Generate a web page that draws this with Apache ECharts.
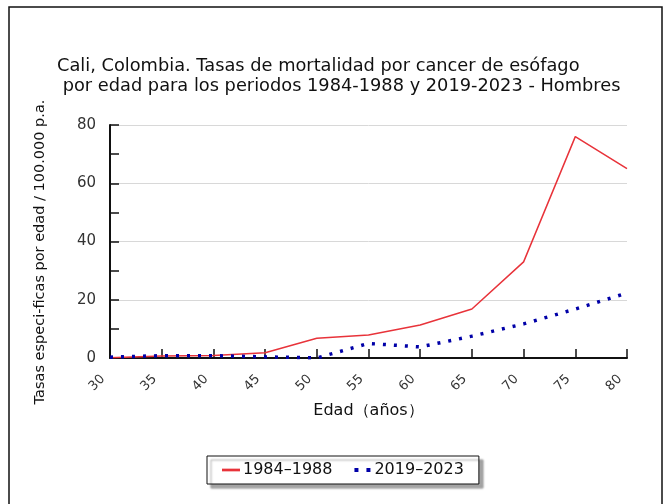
<!DOCTYPE html>
<html>
<head>
<meta charset="utf-8">
<script src="https://cdn.jsdelivr.net/npm/echarts@6/dist/echarts.min.js"></script>
<style>html,body{margin:0;padding:0;background:#fff}#c{width:669px;height:504px}</style>
</head>
<body>
<div id="c"></div>
<script>
var ages = [30, 35, 40, 45, 50, 55, 60, 65, 70, 75, 80];
var s1984 = [0.1, 0.7, 0.9, 1.8, 6.8, 7.9, 11.3, 16.8, 33, 76, 65];
var s2019 = [0.3, 0.8, 0.8, 0.4, 0, 5.0, 3.8, 7.5, 11.7, 16.8, 22.3];
var seriesNames = ['1984\u20131988', '2019\u20132023'];
var yTicks = [0, 20, 40, 60, 80];

function pairs(v){ return ages.map(function(a,i){ return [a, v[i]]; }); }

var chart = echarts.init(document.getElementById('c'));
var font = 'DejaVu Sans';
chart.setOption({
  animation: false,
  backgroundColor: '#fff',
  textStyle: { fontFamily: font },
  graphic: [
    { type: 'rect', shape: { x: 9, y: 7, width: 653, height: 520 }, style: { fill: 'none', stroke: '#111', lineWidth: 1.5 } },
    { type: 'text', left: 57, top: 56, style: { text: 'Cali, Colombia. Tasas de mortalidad por cancer de esófago\n por edad para los periodos 1984-1988 y 2019-2023 - Hombres', font: '17.8px DejaVu Sans', fill: '#111', lineHeight: 20 } },
    { type: 'text', x: 40, y: 252, rotation: Math.PI / 2, style: { text: 'Tasas especi-ficas por edad / 100.000 p.a.', font: '14.5px DejaVu Sans', fill: '#111', align: 'center', verticalAlign: 'middle' } }
  ],
  grid: { left: 110, right: 42, top: 125, bottom: 146 },
  legend: {
    bottom: 20, left: 207,
    backgroundColor: '#fff', borderColor: '#111', borderWidth: 1,
    padding: [6, 15, 6, 15],
    shadowColor: 'rgba(0,0,0,0.35)', shadowOffsetX: 4, shadowOffsetY: 4, shadowBlur: 2,
    itemWidth: 18, itemHeight: 4, itemGap: 22,
    textStyle: { fontSize: 16, color: '#111', fontFamily: font, padding: [0, 0, 0, -2] },
    data: [
      { name: seriesNames[0], icon: 'path://M0,0H20V3H0Z' },
      { name: seriesNames[1], icon: 'path://M0,0h3v3h-3zM9,0h3v3h-3z' }
    ]
  },
  xAxis: {
    type: 'value', min: 30, max: 80, interval: 5,
    name: 'Edad（años）', nameLocation: 'middle', nameGap: 45,
    nameTextStyle: { fontSize: 16, color: '#111', fontFamily: font },
    axisLine: { lineStyle: { color: '#111', width: 2 } },
    axisTick: { inside: true, length: 9, lineStyle: { color: '#111', width: 1.5 } },
    axisLabel: { rotate: 45, fontSize: 13, color: '#333', margin: 12, padding: [0, 10, 0, 0] },
    splitLine: { show: false }
  },
  yAxis: {
    type: 'value', min: 0, max: 80, interval: 20,
    axisLine: { show: true, lineStyle: { color: '#111', width: 2 } },
    axisTick: { inside: true, length: 9, lineStyle: { color: '#111', width: 1.5 } },
    minorTick: { show: true, splitNumber: 2, length: 9, lineStyle: { color: '#111', width: 1.5 } },
    axisLabel: { fontSize: 15, color: '#333', margin: 14,
      formatter: function(v){ return yTicks.indexOf(v) >= 0 ? String(v) : ''; } },
    splitLine: { show: true, lineStyle: { color: '#d8d8d8', width: 1 } }
  },
  series: [
    { name: seriesNames[0], type: 'line', data: pairs(s1984), symbol: 'none',
      itemStyle: { color: '#e8333a' },
      lineStyle: { color: '#e8333a', width: 1.5 } },
    { name: seriesNames[1], type: 'line', data: pairs(s2019), symbol: 'none',
      itemStyle: { color: '#0000a8' },
      lineStyle: { color: '#0000a8', width: 3.5, type: [3, 8] } }
  ]
});
</script>
</body>
</html>
